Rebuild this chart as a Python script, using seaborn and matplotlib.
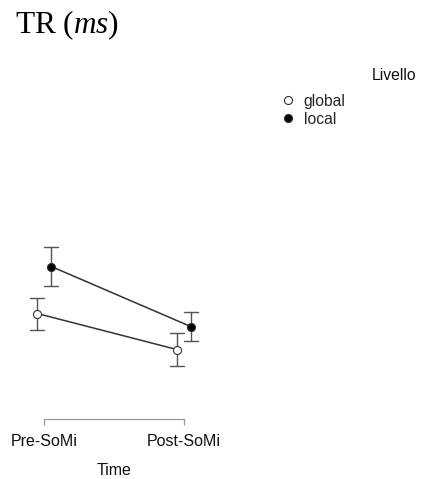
import pandas as pd
import matplotlib
matplotlib.use("Agg")
import matplotlib.pyplot as plt
from matplotlib.lines import Line2D
import seaborn as sns

# values (ms, no y axis is shown)
times = ["Pre-SoMi", "Post-SoMi"]
levels = ["global", "local"]
global_mean = [573, 501]
global_err = [32, 33]
local_mean = [667, 547]
local_err = [39, 29]

rows = []
for lev, means, errs in [("global", global_mean, global_err), ("local", local_mean, local_err)]:
    for t, m, e in zip(times, means, errs):
        # two values per cell: mean of them = m, their full range = the error bar
        rows.append({"Time": t, "Livello": lev, "TR": m - e})
        rows.append({"Time": t, "Livello": lev, "TR": m + e})
df = pd.DataFrame(rows)

sns.set_style("white")
plt.rcParams["font.family"] = ["Liberation Sans", "DejaVu Sans"]
plt.rcParams["mathtext.fontset"] = "custom"
plt.rcParams["mathtext.rm"] = "Liberation Serif"
plt.rcParams["mathtext.it"] = "Liberation Serif:italic"

fig = plt.figure(figsize=(4.25, 4.79), dpi=100)
ax = fig.add_axes([2.5 / 425, 59.7 / 479, 223 / 425, 219.3 / 479])

sns.pointplot(
    data=df, x="Time", y="TR", hue="Livello", order=times, hue_order=levels,
    estimator="mean", errorbar=("pi", 100), dodge=0.1, capsize=0.1,
    palette={"global": "#333333", "local": "#333333"}, markers="o",
    markersize=5.8, linewidth=1.1, err_kws={"linewidth": 1.0, "color": "#555555"},
    legend=False, ax=ax,
)

faces = iter(["white", "black"])
for line in ax.lines:
    if line.get_marker() == "o":
        line.set_markerfacecolor(next(faces))
        line.set_markeredgecolor("#333333")
        line.set_markeredgewidth(0.8)
        line.set_zorder(5)

ax.set_xlim(-0.3, 1.3)
ax.set_ylim(361.4, 800)
for s in ["left", "right", "top"]:
    ax.spines[s].set_visible(False)
ax.spines["bottom"].set_bounds(0, 1)
ax.spines["bottom"].set_color("#999999")
ax.spines["bottom"].set_linewidth(0.9)
ax.set_yticks([])
ax.set_ylabel("")
ax.tick_params(axis="x", bottom=True, direction="out", length=4.6, width=0.9,
               color="#999999", pad=6, labelsize=11.5, labelcolor="#111111")
ax.set_xlabel("Time", fontsize=11.5, labelpad=10, color="#111111")

handles = [
    Line2D([], [], marker="o", linestyle="none", markersize=5.8,
           markerfacecolor="white", markeredgecolor="#333333", markeredgewidth=0.8),
    Line2D([], [], marker="o", linestyle="none", markersize=5.8,
           markerfacecolor="black", markeredgecolor="#333333", markeredgewidth=0.8),
]
fig.legend(handles, levels, loc="upper left", bbox_to_anchor=(274 / 425, 1 - 86 / 479),
           frameon=False, fontsize=11.3, handlelength=0.8, handletextpad=0.6,
           labelspacing=0.2, borderpad=0)
fig.text(372 / 425, 1 - 80 / 479, "Livello", fontsize=11.3, color="#111111")

fig.text(15 / 425, 1 - 33 / 479, r"TR ($\mathit{ms}$)", fontsize=22.5,
         family="Liberation Serif", color="black")

fig.savefig("out.png", dpi=100)
